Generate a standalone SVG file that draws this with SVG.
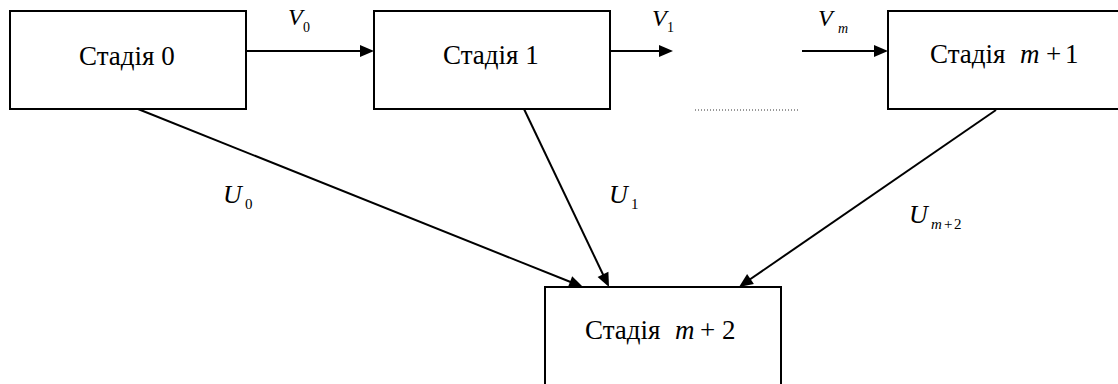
<svg xmlns="http://www.w3.org/2000/svg" width="1118" height="384" viewBox="0 0 1118 384" font-family="Liberation Serif, serif">
<rect width="1118" height="384" fill="#fff"/>
<g id="connectors">
<g stroke="#000" stroke-width="2" fill="none">
<line x1="246" y1="51" x2="362" y2="51"/>
<line x1="610" y1="51" x2="661" y2="51"/>
<line x1="802" y1="51" x2="876" y2="51"/>
<line x1="138" y1="109" x2="573.7" y2="283.3"/>
<line x1="524" y1="109" x2="604.7" y2="278"/>
<line x1="996" y1="110" x2="747.2" y2="281.3"/>
</g>
<g fill="#000">
<polygon points="360,45 374,51 360,57"/>
<polygon points="659,45 673,51 659,57"/>
<polygon points="874,45 888,51 874,57"/>
<polygon points="567.8,287.4 583,287 572.2,276.2"/>
<polygon points="597.6,277 609,287 608.4,271.8"/>
<polygon points="747.1,274.1 739,287 753.9,284"/>
</g>
<line x1="695" y1="110" x2="800" y2="110" stroke="#333" stroke-width="1" stroke-dasharray="1 2"/>
</g>
<g id="labels" fill="#000">
<text x="288" y="25" style="font-family:'Liberation Serif',serif;font-size:24px;font-style:italic">V</text><text x="303" y="32" style="font-family:'Liberation Serif',serif;font-size:14px">0</text>
<text x="652" y="26" style="font-family:'Liberation Serif',serif;font-size:24px;font-style:italic">V</text><text x="667" y="32" style="font-family:'Liberation Serif',serif;font-size:14px">1</text>
<text x="818" y="26" style="font-family:'Liberation Serif',serif;font-size:24px;font-style:italic">V</text><text x="838" y="33" style="font-family:'Liberation Serif',serif;font-size:14px;font-style:italic">m</text>
<text x="223" y="203" style="font-family:'Liberation Serif',serif;font-size:26px;font-style:italic">U</text><text x="245" y="209" style="font-family:'Liberation Serif',serif;font-size:15px">0</text>
<text x="609" y="203" style="font-family:'Liberation Serif',serif;font-size:26px;font-style:italic">U</text><text x="631" y="209" style="font-family:'Liberation Serif',serif;font-size:15px">1</text>
<text x="909" y="223" style="font-family:'Liberation Serif',serif;font-size:26px;font-style:italic">U</text><text y="229" style="font-family:'Liberation Serif',serif;font-size:15px"><tspan x="931" font-style="italic">m</tspan><tspan x="944">+</tspan><tspan x="954">2</tspan></text>
</g>
<g id="stage0">
<rect x="10" y="11" width="236" height="98" fill="#fff" stroke="#000" stroke-width="2"/>
<text x="79" y="65" style="font-family:'Liberation Serif',serif;font-size:27px">Стадія 0</text>
</g>
<g id="stage1">
<rect x="374" y="11" width="236" height="98" fill="#fff" stroke="#000" stroke-width="2"/>
<text x="443" y="64" style="font-family:'Liberation Serif',serif;font-size:27px">Стадія 1</text>
</g>
<g id="stageM1">
<rect x="888" y="11" width="240" height="98" fill="#fff" stroke="#000" stroke-width="2"/>
<text y="63" style="font-family:'Liberation Serif',serif;font-size:27px"><tspan x="930">Стадія</tspan><tspan x="1020" font-style="italic">m</tspan><tspan x="1046">+</tspan><tspan x="1065">1</tspan></text>
</g>
<g id="stageM2">
<rect x="545" y="287" width="236" height="110" fill="#fff" stroke="#000" stroke-width="2"/>
<text y="339" style="font-family:'Liberation Serif',serif;font-size:27px"><tspan x="585">Стадія</tspan><tspan x="675" font-style="italic">m</tspan><tspan x="700">+</tspan><tspan x="722">2</tspan></text>
</g>
</svg>
